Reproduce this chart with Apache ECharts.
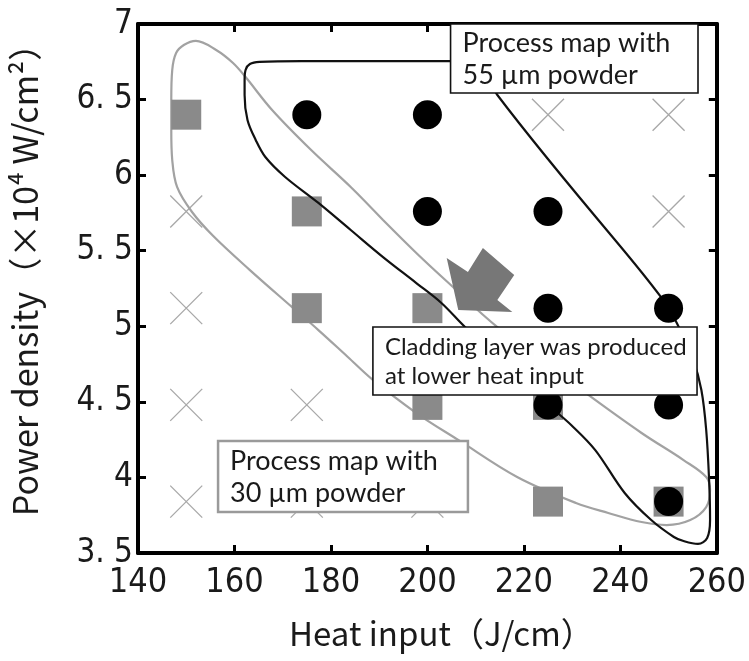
<!DOCTYPE html>
<html><head><meta charset="utf-8">
<script src="https://cdn.jsdelivr.net/npm/echarts@6/dist/echarts.min.js"></script>
<style>html,body{margin:0;padding:0;background:#fff}#c{width:749px;height:661px}</style>
</head><body><div id="c"></div>
<script>
// ---- data ----
const xTicks = [140, 160, 180, 200, 220, 240, 260];
const yTicks = [3.5, 4, 4.5, 5, 5.5, 6, 6.5, 7];
const yTickLabels = ['3. 5', '4', '4. 5', '5', '5. 5', '6', '6. 5', '7'];

const squares30 = [[150,6.4],[175,5.76],[175,5.12],[200,5.12],[200,4.48],[225,4.48],[225,3.84],[250,3.84]];
const circles55 = [[175,6.4],[200,6.4],[200,5.76],[225,5.76],[225,5.12],[250,5.12],[225,4.48],[250,4.48],[250,3.84]];
const crosses = [[150,5.76],[150,5.12],[150,4.48],[150,3.84],[175,4.48],[175,3.84],[200,3.84],[225,6.4],[250,6.4],[250,5.76]];

// outline of the 30 um process map (closed loop)
const map30 = [[190.8,5.703],[184.1,5.922],[175.9,6.166],[167.8,6.431],[162.3,6.649],[159.7,6.742],[156.2,6.828],
  [152.0,6.888],[149.5,6.861],[147.9,6.808],[147.1,6.696],[146.9,6.497],[146.9,6.299],[147.1,6.100],[148.1,5.922],
  [151.2,5.756],[155.6,5.597],[163.2,5.372],[171.9,5.128],[177.4,4.975],[183.5,4.797],[188.7,4.645],[197.7,4.426],
  [206.4,4.248],[218.6,4.003],[230.8,3.831],[237.5,3.765],[244.4,3.705],[249.6,3.685],[254.5,3.718],[257.8,3.804],
  [258.6,3.917],[257.8,4.003],[253.1,4.115],[244.4,4.294],[232.8,4.559],[214.5,4.995],[204.4,5.286],[197.7,5.485],[190.8,5.703]];

// outline of the 55 um process map (closed loop)
const map55 = [[238.9,5.571],[248.4,5.194],[251.7,5.022],[255.1,4.777],[256.8,4.578],[257.8,4.314],[258.4,3.983],
  [258.6,3.718],[258.0,3.599],[256.1,3.560],[253.1,3.579],[251.1,3.606],[246.4,3.718],[240.9,3.897],[234.8,4.181],
  [229.8,4.347],[225.1,4.479],[207.8,4.995],[202.9,5.154],[197.7,5.286],[190.8,5.458],[184.1,5.637],[177.4,5.816],
  [170.5,5.988],[166.4,6.120],[164.4,6.233],[162.7,6.365],[162.1,6.530],[162.1,6.629],[162.3,6.696],[163.2,6.735],
  [165.2,6.749],[173.9,6.755],[190.2,6.755],[206.4,6.755],[210.5,6.742],[212.5,6.682],[214.5,6.530],[238.9,5.571]];

// arrow polygon (data coordinates)
const arrowShape = [[204.0,5.452],[206.4,5.108],[217.6,5.094],[214.5,5.174],[218.0,5.339],[211.5,5.518],[208.4,5.359]];

// annotation boxes: [x0, y0, x1, y1] in data coordinates
const noteTexts = ['Process map with\n55 µm powder', 'Cladding layer was produced\nat lower heat input', 'Process map with\n30 µm powder'];
const noteBoxes = [[204.8, 7.0, 256.1, 6.543], [188.7, 4.995, 255.9, 4.545], [156.6, 4.241, 208.4, 3.771]];
const noteBorders = ['#111', '#111', '#9a9a9a'];
const noteSizes = [27, 24, 27];

// ---- chart ----
const chart = echarts.init(document.getElementById('c'), null, {renderer: 'canvas'});
const narrow = "'Liberation Sans Narrow', 'DejaVu Sans Condensed', 'Liberation Sans', sans-serif";
const cjk = "'Noto Sans CJK JP', 'Noto Sans', sans-serif";
const axisLine = {show: true, onZero: false, lineStyle: {color: '#000', width: 4}};
const axisTick = {show: true, inside: true, length: 8, lineStyle: {color: '#000', width: 3}};

function yLabel(v) {
  const i = yTicks.findIndex(t => Math.abs(t - v) < 1e-6);
  return i >= 0 ? yTickLabels[i] : '';
}

const option = {
  backgroundColor: '#fff',
  animation: false,
  grid: {left: 133, top: 24, right: 25, bottom: 108, containLabel: false},
  xAxis: [
    {type: 'value', min: xTicks[0], max: xTicks[xTicks.length - 1], interval: 20, position: 'bottom',
     axisLine, axisTick, splitLine: {show: false},
     axisLabel: {fontSize: 34, fontFamily: narrow, color: '#1a1a1a', margin: 13},
     name: 'Heat input（J/cm）', nameLocation: 'middle', nameGap: 64,
     nameTextStyle: {fontSize: 33, fontFamily: cjk, color: '#1a1a1a', padding: [0, 0, 0, 28]}},
    {type: 'value', min: xTicks[0], max: xTicks[xTicks.length - 1], interval: 20, position: 'top',
     axisLine, axisTick, splitLine: {show: false}, axisLabel: {show: false}}
  ],
  yAxis: [
    {type: 'value', min: yTicks[0], max: yTicks[yTicks.length - 1], interval: 0.5, position: 'left',
     axisLine, axisTick, splitLine: {show: false},
     axisLabel: {fontSize: 33, fontFamily: narrow, color: '#1a1a1a', margin: 5, formatter: yLabel},
     name: '　Power density（×10⁴ W/cm²）', nameLocation: 'middle', nameGap: 96, nameRotate: 90,
     nameTextStyle: {fontSize: 34, fontFamily: cjk, color: '#1a1a1a'}},
    {type: 'value', min: yTicks[0], max: yTicks[yTicks.length - 1], interval: 0.5, position: 'right',
     axisLine, axisTick, splitLine: {show: false}, axisLabel: {show: false}}
  ],
  series: [
    {type: 'scatter', name: 'no cladding', z: 2, data: crosses,
     symbol: 'path://M0 0L10 10M10 0L0 10', symbolSize: 32,
     itemStyle: {color: 'none', borderColor: '#a8a8a8', borderWidth: 1.3, opacity: 1}},
    {type: 'line', name: 'map30', z: 3, data: map30, smooth: 0.35, symbol: 'none',
     lineStyle: {color: '#a2a2a2', width: 2.2}},
    {type: 'scatter', name: '30um', z: 4, data: squares30, symbol: 'rect', symbolSize: 30,
     itemStyle: {color: '#8a8a8a', opacity: 1}},
    {type: 'line', name: 'map55', z: 5, data: map55, smooth: 0.35, symbol: 'none',
     lineStyle: {color: '#111', width: 2.2}},
    {type: 'scatter', name: '55um', z: 6, data: circles55, symbol: 'circle', symbolSize: 29,
     itemStyle: {color: '#000', opacity: 1}},
    {type: 'custom', name: 'arrow', z: 7, data: [0],
     renderItem: function (params, api) {
       const pts = arrowShape.map(p => api.coord(p));
       return {type: 'polygon', shape: {points: pts}, style: {fill: '#777777', stroke: 'none'}};
     }},
    {type: 'custom', name: 'notes', z: 8, data: noteTexts.map((t, i) => i),
     renderItem: function (params, api) {
       const i = params.dataIndex;
       const b = noteBoxes[i];
       const p0 = api.coord([b[0], b[1]]);
       const p1 = api.coord([b[2], b[3]]);
       const w = p1[0] - p0[0], h = p1[1] - p0[1];
       return {type: 'group', children: [
         {type: 'rect', shape: {x: p0[0], y: p0[1], width: w, height: h},
          style: {fill: '#fff', stroke: noteBorders[i], lineWidth: i === 2 ? 2.5 : 1.6}},
         {type: 'text', style: {text: noteTexts[i], x: p0[0] + 12, y: p0[1] + h / 2 + 1,
           align: 'left', verticalAlign: 'middle', fill: '#1a1a1a',
           fontSize: noteSizes[i], fontFamily: "Lato, 'Open Sans', sans-serif",
           lineHeight: Math.round(noteSizes[i] * 1.2)}}
       ]};
     }}
  ]
};
chart.setOption(option);
</script>
</body></html>
